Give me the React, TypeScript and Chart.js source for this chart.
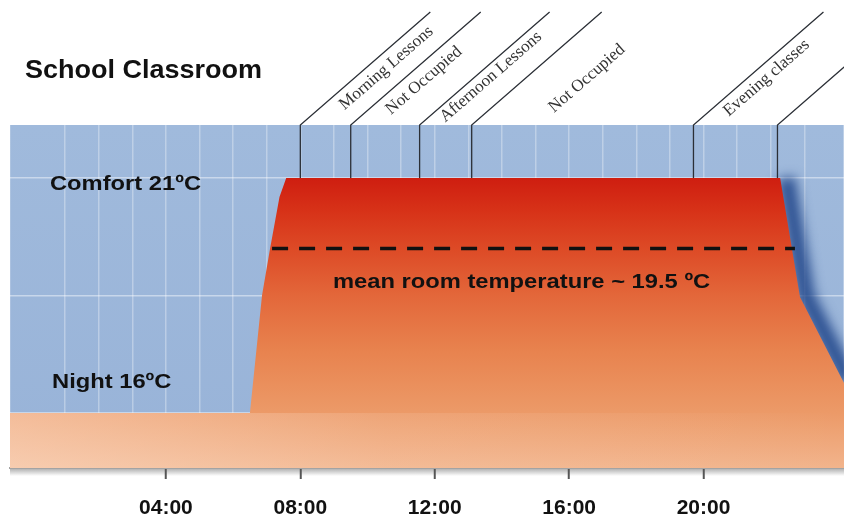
import { useEffect, useRef } from "react";
import { Chart, registerables } from "chart.js";

Chart.register(...registerables);

// ---------- data ----------
const TITLE = "School Classroom";
// room temperature profile (hour of day, °C)
const HOURS = [-0.64, 6.5, 6.86, 7.1, 7.38, 7.58, 22.28, 22.87, 24.18];
const TEMPS = [16, 16, 18.5, 19.5, 20.6, 21, 21, 18.47, 16.64];
// mean room temperature line
const MEAN_TEMP = 19.5;
const MEAN_SPAN = [7.16, 22.72];
// occupancy period boundaries (hours) and labels between them
const PERIOD_BOUNDS = [8, 9.5, 11.55, 13.1, 19.7, 22.2];
const PERIOD_LABELS = ["Morning Lessons", "Not Occupied", "Afternoon Lessons", "Not Occupied", "Evening classes"];
// level labels
const COMFORT_TEMP = 21;
const NIGHT_TEMP = 16;
const COMFORT_LABEL = "Comfort 21ºC";
const NIGHT_LABEL = "Night 16ºC";
const MEAN_LABEL = "mean room temperature ~ 19.5 ºC";
// axes
const X_TICK_HOURS = [4, 8, 12, 16, 20];
const X_TICK_LABELS = ["04:00", "08:00", "12:00", "16:00", "20:00"];
const Y_GRID = [16, 18.5, 21];
const X_RANGE = [-0.64, 24.18];
const Y_RANGE = [14.83, 22.13];

// ---------- styles / layout ----------
const SANS = "'Liberation Sans', Arial, sans-serif";
const SERIF = "'Liberation Serif', 'Times New Roman', serif";
const FILL_STOPS: [number, string][] = [
  [22.13, "#c8190d"],
  [21, "#cf1e10"],
  [20.3, "#d73218"],
  [19.5, "#dd4a26"],
  [18.5, "#e3673a"],
  [17.3, "#e8834f"],
  [16, "#ec9a68"],
  [14.83, "#f2b48c"],
];
// label anchors in data units [hour, temp] (text vertical centre)
const COMFORT_AT = [0.55, 20.86];
const NIGHT_AT = [0.61, 16.65];
const MEAN_AT = [8.97, 18.78];
// period label offsets [along line, perpendicular] in px
const LABEL_OFFSETS = [
  [43, 18],
  [37, 19],
  [21, 15],
  [70, 45],
  [32, 17],
];
const ANGLE = (41 * Math.PI) / 180;

function stretchedText(ctx: CanvasRenderingContext2D, text: string, x: number, y: number, sx: number) {
  ctx.save();
  ctx.translate(x, y);
  ctx.scale(sx, 1);
  ctx.fillText(text, 0, 0);
  ctx.restore();
}

const decorPlugin = {
  id: "decor",
  beforeDraw(chart: any) {
    const { ctx, chartArea: a } = chart;
    ctx.save();
    const g = ctx.createLinearGradient(0, a.top, 0, a.bottom);
    g.addColorStop(0, "#a0badc");
    g.addColorStop(1, "#98b3d8");
    ctx.fillStyle = g;
    ctx.fillRect(a.left, a.top, a.right - a.left, a.bottom - a.top);
    // soft shadow under the plot
    const s = ctx.createLinearGradient(0, a.bottom, 0, a.bottom + 8);
    s.addColorStop(0, "rgba(100,100,100,0.55)");
    s.addColorStop(1, "rgba(100,100,100,0)");
    ctx.fillStyle = s;
    ctx.fillRect(a.left, a.bottom, a.right - a.left, 8);
    ctx.restore();
  },
  beforeDatasetDraw(chart: any, args: any) {
    if (args.index === 0) {
      const ctx = chart.ctx;
      ctx.save();
      ctx.filter = "blur(6px)";
      ctx.translate(6, 0);
    }
  },
  afterDatasetDraw(chart: any, args: any) {
    if (args.index === 0) chart.ctx.restore();
  },
  afterDatasetsDraw(chart: any) {
    // lighter sheen on the night band, fading from left to right
    const { ctx, chartArea: a } = chart;
    const yNight = chart.scales.y.getPixelForValue(NIGHT_TEMP);
    ctx.save();
    const h = ctx.createLinearGradient(a.left, 0, a.right, 0);
    h.addColorStop(0, "rgba(255,240,228,0.4)");
    h.addColorStop(0.45, "rgba(255,240,228,0.12)");
    h.addColorStop(1, "rgba(255,240,228,0)");
    ctx.fillStyle = h;
    ctx.fillRect(a.left, yNight, a.right - a.left, a.bottom - yNight);
    ctx.restore();
  },
  afterDraw(chart: any) {
    const { ctx, chartArea: a } = chart;
    const xs = chart.scales.x;
    const ys = chart.scales.y;
    const top = a.top;
    const yComfort = ys.getPixelForValue(COMFORT_TEMP);
    ctx.save();
    // period lines
    ctx.strokeStyle = "#2b2f36";
    ctx.lineWidth = 1.3;
    const L = (top - 12) / Math.sin(ANGLE);
    PERIOD_BOUNDS.forEach((b) => {
      const px = xs.getPixelForValue(b);
      ctx.beginPath();
      ctx.moveTo(px, yComfort);
      ctx.lineTo(px, top);
      ctx.lineTo(px + L * Math.cos(ANGLE), top - L * Math.sin(ANGLE));
      ctx.stroke();
    });
    // period labels
    ctx.font = `17px ${SERIF}`;
    ctx.fillStyle = "#333333";
    ctx.textAlign = "left";
    ctx.textBaseline = "alphabetic";
    PERIOD_LABELS.forEach((t, i) => {
      const px = xs.getPixelForValue(PERIOD_BOUNDS[i]);
      ctx.save();
      ctx.translate(px, top);
      ctx.rotate(-ANGLE);
      ctx.fillText(t, LABEL_OFFSETS[i][0], LABEL_OFFSETS[i][1]);
      ctx.restore();
    });
    // title
    ctx.fillStyle = "#111111";
    ctx.font = `bold 25px ${SANS}`;
    stretchedText(ctx, TITLE, 25, 78, 1.08);
    // level labels
    ctx.textBaseline = "middle";
    ctx.font = `bold 21px ${SANS}`;
    stretchedText(ctx, COMFORT_LABEL, xs.getPixelForValue(COMFORT_AT[0]), ys.getPixelForValue(COMFORT_AT[1]), 1.13);
    stretchedText(ctx, NIGHT_LABEL, xs.getPixelForValue(NIGHT_AT[0]), ys.getPixelForValue(NIGHT_AT[1]), 1.13);
    stretchedText(ctx, MEAN_LABEL, xs.getPixelForValue(MEAN_AT[0]), ys.getPixelForValue(MEAN_AT[1]), 1.13);
    ctx.restore();
  },
};

export default function App() {
  const ref = useRef<HTMLCanvasElement | null>(null);

  useEffect(() => {
    if (!ref.current) return;
    const profile = HOURS.map((h, i) => ({ x: h, y: TEMPS[i] }));
    const peak = Math.max(...TEMPS);
    const offIdx = TEMPS.lastIndexOf(peak);
    const cooling = profile.slice(offIdx);
    const mean = MEAN_SPAN.map((h) => ({ x: h, y: MEAN_TEMP }));

    const chart = new Chart(ref.current, {
      type: "line",
      data: {
        datasets: [
          {
            label: "cooling shade",
            data: cooling,
            borderColor: "rgba(28,66,135,0.85)",
            borderWidth: 18,
            pointRadius: 0,
            fill: false,
            order: 3,
          },
          {
            label: "room temperature",
            data: profile,
            borderWidth: 0,
            borderColor: "rgba(0,0,0,0)",
            pointRadius: 0,
            fill: "start",
            tension: 0,
            order: 2,
            backgroundColor: (c: any) => {
              const ch = c.chart;
              const a = ch.chartArea;
              if (!a) return "#e4683a";
              const ys = ch.scales.y;
              const g = ch.ctx.createLinearGradient(0, a.top, 0, a.bottom);
              FILL_STOPS.forEach(([t, col]) => {
                const f = (ys.getPixelForValue(t) - a.top) / (a.bottom - a.top);
                g.addColorStop(Math.min(1, Math.max(0, f)), col);
              });
              return g;
            },
          },
          {
            label: "mean",
            data: mean,
            borderColor: "#111111",
            borderWidth: 3.5,
            borderDash: [16, 11],
            pointRadius: 0,
            fill: false,
            order: 1,
          },
        ],
      },
      options: {
        animation: false,
        responsive: false,
        devicePixelRatio: 1,
        layout: { padding: { top: 125, left: 10, right: 0, bottom: 0 } },
        plugins: {
          legend: { display: false },
          tooltip: { enabled: false },
          title: { display: false },
        },
        scales: {
          x: {
            type: "linear",
            min: X_RANGE[0],
            max: X_RANGE[1],
            z: 1,
            afterFit: (s: any) => {
              s.height = 50;
              s.paddingLeft = 0;
              s.paddingRight = 0;
            },
            ticks: {
              stepSize: 1,
              autoSkip: false,
              maxRotation: 0,
              minRotation: 0,
              padding: 21,
              color: "#111111",
              font: { family: SANS, weight: "bold", size: 21, lineHeight: 0.8 },
              callback: (v: any) => {
                const i = X_TICK_HOURS.indexOf(Number(v));
                return i >= 0 ? X_TICK_LABELS[i] : "";
              },
            },
            grid: {
              color: "rgba(255,255,255,0.32)",
              lineWidth: 1.5,
              tickLength: 11,
              tickWidth: 2,
              tickColor: (c: any) =>
                c.tick && X_TICK_HOURS.includes(c.tick.value) ? "#555555" : "rgba(0,0,0,0)",
            },
            border: { display: true, color: "#a3a3a3", width: 2 },
          },
          y: {
            type: "linear",
            min: Y_RANGE[0],
            max: Y_RANGE[1],
            z: 1,
            afterFit: (s: any) => {
              s.width = 0;
              s.paddingTop = 0;
              s.paddingBottom = 0;
            },
            afterBuildTicks: (s: any) => {
              s.ticks = Y_GRID.map((value) => ({ value }));
            },
            ticks: { display: false },
            grid: { color: "rgba(255,255,255,0.45)", lineWidth: 1.5, drawTicks: false },
            border: { display: false },
          },
        },
      },
      plugins: [decorPlugin],
    });
    return () => chart.destroy();
  }, []);

  return (
    <div style={{ position: "absolute", left: 0, top: 0, width: 844, height: 518, background: "#ffffff" }}>
      <canvas ref={ref} width={844} height={518} style={{ display: "block" }} />
    </div>
  );
}
